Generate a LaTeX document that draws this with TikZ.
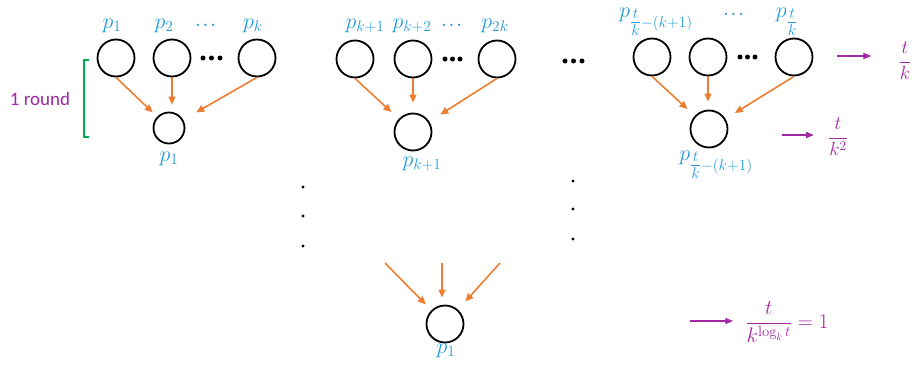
\documentclass[tikz,border=0pt]{standalone}
\usepackage{fix-cm}
\usepackage{amsmath}
\usepackage{fontspec}
\newfontfamily\labelfont{Carlito}
\usetikzlibrary{arrows.meta}
\definecolor{lblue}{RGB}{35,155,215}
\definecolor{arrorange}{RGB}{237,125,49}
\definecolor{mpurple}{RGB}{160,40,160}
\definecolor{bgreen}{RGB}{0,176,80}
\newcommand{\labsize}{\fontsize{22}{24}\selectfont}
\newcommand{\ressize}{\fontsize{19}{22}\selectfont}
\newcommand{\tk}{\genfrac{}{}{}{1}{t}{k}}
\begin{document}
\begin{tikzpicture}[x=1pt,y=-1pt,
  proc/.style={draw, circle, line width=1.8pt, minimum size=37pt, inner sep=0pt},
  procsm/.style={proc, minimum size=31pt},
  lab/.style={text=lblue, font=\labsize, inner sep=0pt, anchor=base},
  ldots/.style={lab, font=\fontsize{15}{17}\selectfont},
  flow/.style={draw=arrorange, line width=1.6pt, -{Triangle[length=8pt,width=7pt]}},
  res/.style={draw=mpurple, line width=1.8pt, -{Triangle[length=8pt,width=6pt]}},
  fracl/.style={text=mpurple, font=\ressize, inner sep=0pt},
  bdot/.style={fill=black}
]
\useasboundingbox (0,0) rectangle (915,364);

% group 1
\node[proc] (a1) at (116,58) {};
\node[proc] (a2) at (172,58) {};
\node[proc] (a3) at (257,58) {};
\node[procsm] (b1) at (169,128) {};
\node[lab] (la1) at (112,28) {$p_1$};
\node[lab] (la2) at (164,28) {$p_2$};
\node[ldots] (la3) at (207,27) {$\boldsymbol{\dots}$};
\node[lab] (la4) at (253,28) {$p_k$};
\node[lab] (lb1) at (169,161) {$p_1$};
\foreach \x in {203,211.5,220} \fill[bdot] (\x,58) circle (2.5pt);
\draw[flow, shorten >=6pt] (a1.south) -- (b1);
\draw[flow, shorten >=7pt] (a2.south) -- (a2.south |- b1.north);
\draw[flow, shorten >=15pt] (a3.south) -- (b1);

% round bracket
\node[text=mpurple, font=\labelfont\fontsize{19}{22}\selectfont, inner sep=0pt] (rl) at (40,99) {1 round};
\draw[bgreen, line width=1.8pt] (89,60) -- (84,60) -- (84,137) -- (89,137);

% group 2
\node[proc] (c1) at (355,59) {};
\node[proc] (c2) at (413,59) {};
\node[proc] (c3) at (497,59) {};
\node[proc] (d1) at (413,132) {};
\node[lab] (lc1) at (365,28) {$p_{k+1}$};
\node[lab] (lc2) at (412,28) {$p_{k+2}$};
\node[ldots] (lc3) at (453,27) {$\boldsymbol{\dots}$};
\node[lab] (lc4) at (495,28) {$p_{2k}$};
\node[lab] (ld1) at (422,166) {$p_{k+1}$};
\foreach \x in {445,452.5,460} \fill[bdot] (\x,59) circle (2.5pt);
\draw[flow, shorten >=10pt] (c1.south) -- (d1);
\draw[flow, shorten >=10pt] (c2.south) -- (d1.north);
\draw[flow, shorten >=13pt] (c3.south) -- (d1);

% middle dots
\foreach \x in {565,573.5,582} \fill[bdot] (\x,61) circle (2.5pt);

% group 3
\node[proc] (e1) at (652,57) {};
\node[proc] (e2) at (708,57) {};
\node[proc] (e3) at (794,57) {};
\node[proc] (f1) at (709,129) {};
\node[lab] (le1) at (656,17) {$p_{\tk-(k+1)}$};
\node[ldots] (le2) at (735,16) {$\boldsymbol{\dots}$};
\node[lab] (le3) at (787,17) {$p_{\tk}$};
\node[lab] (lf1) at (716,160) {$p_{\tk-(k+1)}$};
\foreach \x in {740,747.5,755} \fill[bdot] (\x,57) circle (2.5pt);
\draw[flow, shorten >=10pt] (e1.south) -- (f1);
\draw[flow, shorten >=8pt] (e2.south) -- (e2.south |- f1.north);
\draw[flow, shorten >=11pt] (e3.south) -- (f1);

% vertical dots
\foreach \y in {187,216,246} \fill[bdot] (303,\y) circle (1.6pt);
\foreach \y in {181,209,239} \fill[bdot] (573,\y) circle (1.6pt);

% final
\node[proc] (g1) at (445,324) {};
\node[lab] (lg1) at (446,353) {$p_1$};
\coordinate (h1) at (385,263);
\coordinate (h2) at (442,263);
\coordinate (h3) at (500,263);
\draw[flow, shorten >=8pt] (h1) -- (g1);
\draw[flow, shorten >=7pt] (h2) -- (h2 |- g1.north);
\draw[flow, shorten >=11pt] (h3) -- (g1);

% results
\node[fracl] (r1) at (905,61) {$\dfrac{t}{k}$};
\node[fracl] (r2) at (838,137) {$\dfrac{t}{k^2}$};
\node[fracl, font=\fontsize{21}{24}\selectfont] (r3) at (787,322) {$\dfrac{t}{k^{\log_k t}} = 1$};
\coordinate (s1) at (837,56);
\coordinate (s2) at (782,135);
\coordinate (s3) at (690,321);
\draw[res, shorten >=27pt] (s1) -- (s1 -| r1.west);
\draw[res, shorten >=14pt] (s2) -- (s2 -| r2.west);
\draw[res, shorten >=12pt] (s3) -- (s3 -| r3.west);
\end{tikzpicture}
\end{document}
